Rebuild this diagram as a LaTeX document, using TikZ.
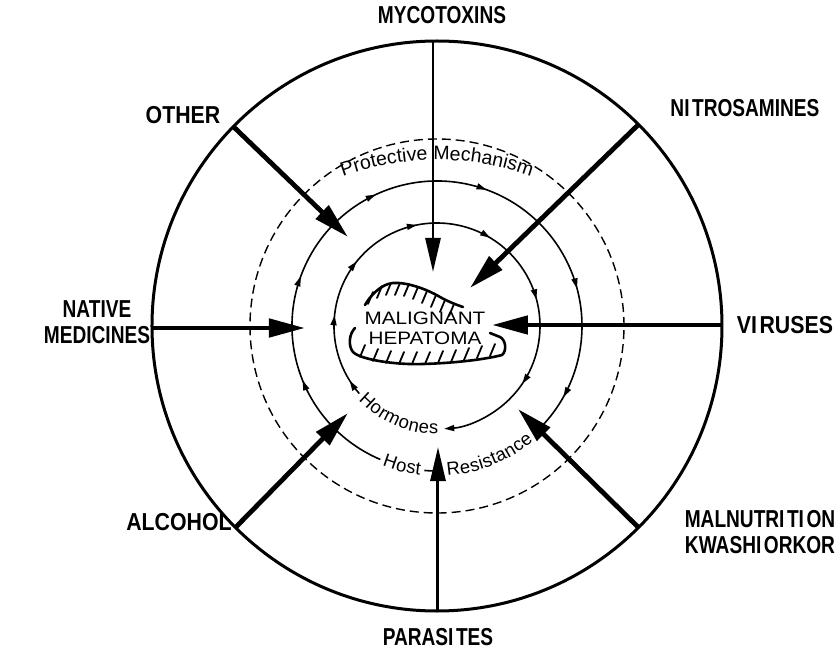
\documentclass[tikz,border=0pt]{standalone}
\usepackage{fontspec}
\setmainfont{Liberation Sans}
\newfontfamily\labnarrow[FakeStretch=0.78]{Liberation Sans}
\newfontfamily\labwide[FakeStretch=0.87]{Liberation Sans}
\newfontfamily\tumfont[FakeStretch=1.15]{Liberation Sans}
\newcommand\ringtxt{\fontsize{18.5}{18.5}\selectfont}
\newcommand\protxt{\fontsize{19.5}{19.5}\selectfont}
\newcommand\gapI{\kern2.5pt}
\usetikzlibrary{arrows.meta,decorations.text,decorations.markings}
\tikzset{
  outerring/.style={line width=3pt},
  ring/.style={line width=1.6pt},
  dashring/.style={line width=1.4pt, dash pattern=on 9pt off 5pt},
  bigarrow/.style={line width=4.8pt, -{Triangle[length=36pt,width=18pt]}},
  slimarrow/.style={line width=2.8pt, -{Triangle[length=34pt,width=15pt]}},
  lab/.style={font=\labnarrow\bfseries\fontsize{24.5}{26}\selectfont, align=center, inner sep=0pt},
  labw/.style={font=\labwide\bfseries\fontsize{24.5}{26}\selectfont, align=center, inner sep=0pt},
  flowtip/.style={-{Triangle[length=10pt,width=6pt]}},
  ringtext/.style={decorate, decoration={text along path, text align=center, raise=-5pt}},
  blob/.style={line width=2.6pt, line cap=round, line join=round},
  hatch/.style={line width=1.8pt, line cap=round},
}
\begin{document}
\begin{tikzpicture}[x=1pt,y=1pt]
\useasboundingbox[fill=white] (-437,-325) rectangle (402,326);
\coordinate (C) at (0,0);

% rings
\draw[outerring] (C) circle[radius=285];
\draw[dashring] (C) circle[radius=187];

% middle ring (Host Resistance)
\draw[ring, postaction={decorate, decoration={markings,
    mark=at position 0.153 with {\arrow{Triangle[length=10pt,width=6pt]}},
    mark=at position 0.296 with {\arrow{Triangle[length=10pt,width=6pt]}},
    mark=at position 0.449 with {\arrow{Triangle[length=10pt,width=6pt]}},
    mark=at position 0.602 with {\arrow{Triangle[length=10pt,width=6pt]}},
    mark=at position 0.789 with {\arrow{Triangle[length=10pt,width=6pt]}},
    mark=at position 0.94 with {\arrow{Triangle[length=10pt,width=6pt]}}}}]
  (247:145) arc[start angle=247, end angle=-47, radius=145];
\draw[ring] (265:145) arc[start angle=265, end angle=271.5, radius=145];

% inner ring (Hormones)
\draw[ring, flowtip, postaction={decorate, decoration={markings,
    mark=at position 0.029 with {\arrow{Triangle[length=10pt,width=6pt]}},
    mark=at position 0.153 with {\arrow{Triangle[length=10pt,width=6pt]}},
    mark=at position 0.26 with {\arrow{Triangle[length=10pt,width=6pt]}},
    mark=at position 0.39 with {\arrow{Triangle[length=10pt,width=6pt]}},
    mark=at position 0.528 with {\arrow{Triangle[length=10pt,width=6pt]}},
    mark=at position 0.671 with {\arrow{Triangle[length=10pt,width=6pt]}},
    mark=at position 0.831 with {\arrow{Triangle[length=10pt,width=6pt]}}}}]
  (221:103) arc[start angle=221, end angle=-86, radius=103];

% ring texts
\path[decorate, decoration={text along path, text align=center, text={|\protxt|Protective Mechanism}}]
  (0,-110) ++(112:276) arc[start angle=112, end angle=68, radius=276];
\path[ringtext, decoration={text={|\ringtxt|Hormones}}]
  (219:103) arc[start angle=219, end angle=275, radius=103];
\path[ringtext, decoration={text={|\ringtxt|Host}}]
  (246:145) arc[start angle=246, end angle=266, radius=145];
\path[ringtext, decoration={text={|\ringtxt|Resistance}}]
  (267:145) arc[start angle=267, end angle=317, radius=145];

% tumour outline
\draw[blob] (-72,21) .. controls (-67,30) and (-56,42) .. (-44,43)
  .. controls (-32,44) and (-12,38) .. (3,29) .. controls (12,24) and (20,21) .. (26,19);
\draw[blob] (-82,-2) .. controls (-88,-8) and (-89,-20) .. (-84,-26)
  .. controls (-76,-34) and (-40,-39) .. (-14,-38)
  .. controls (20,-37) and (50,-33) .. (65,-29)
  .. controls (70,-25) and (69,-14) .. (63,-11) -- (53,-7);
% tumour hatching (inside the outline)
\foreach \x/\y in {-64/34, -55/40, -46/43, -37/43, -28/42, -19/39, -10/35, -1/31, 8/26, 17/22}
  \draw[hatch] (\x,\y) -- ++(-5,-12);
\foreach \x/\y in {-77/-31, -64/-35, -51/-37, -38/-38, -25/-38, -12/-38, 1/-37, 14/-36, 27/-34, 40/-32, 53/-30}
  \draw[hatch] (\x,\y) -- ++(5,12);
\node[font=\tumfont\fontsize{18}{20}\selectfont, align=center, inner sep=0pt] (tumour) at (-12,-2.5) {MALIGNANT\\HEPATOMA};

% labels
\node[lab] (myco) at (5,311) {MYCOTOXINS};
\node[labw] (other) at (-254,211) {OTHER};
\node[lab] (nitro) at (308,218) {NI\gapI TROSAMINES};
\node[lab] (native) at (-340,4) {NATIVE\\MEDICINES};
\node[labw] (viruses) at (348,1) {VI\gapI RUSES};
\node[labw] (alcohol) at (-258,-196) {ALCOHOL};
\node[lab] (malnut) at (323,-206) {MALNUTRI\gapI TI\gapI ON\\KWASHI\gapI ORKOR};
\node[lab] (parasites) at (1,-311) {PARASI\gapI TES};

% arrow end points
\coordinate (tMyco) at (-4,285);     \coordinate (hMyco) at (-4,54);
\coordinate (tNitro) at (45:285);    \coordinate (hNitro) at (33,38);
\coordinate (tVir) at (285,1);       \coordinate (hVir) at (55,1);
\coordinate (tMal) at (-45:285);     \coordinate (hMal) at (81,-83);
\coordinate (tPar) at (1,-285);      \coordinate (hPar) at (1,-121);
\coordinate (tAlc) at (225:285);     \coordinate (hAlc) at (-89,-87);
\coordinate (tNat) at (-285,-2);     \coordinate (hNat) at (-132,-2);
\coordinate (tOth) at (135.6:285);   \coordinate (hOth) at (-89,89);

% big arrows
\draw[slimarrow] (tMyco) -- (hMyco);
\draw[bigarrow] (tNitro) -- (hNitro);
\draw[bigarrow] (tVir) -- (hVir);
\draw[bigarrow] (tMal) -- (hMal);
\draw[slimarrow, line width=3pt] (tPar) -- (hPar);
\draw[bigarrow] (tAlc) -- (hAlc);
\draw[bigarrow] (tNat) -- (hNat);
\draw[bigarrow] (tOth) -- (hOth);
\end{tikzpicture}
\end{document}
